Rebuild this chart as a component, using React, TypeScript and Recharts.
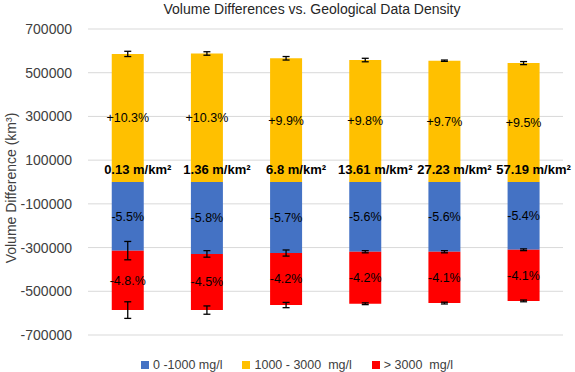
import { Bar, BarChart, CartesianGrid, ErrorBar, Label, LabelList, Legend, XAxis, YAxis } from "recharts";

const densities = ["0.13 m/km²", "1.36 m/km²", "6.8 m/km²", "13.61 m/km²", "27.23 m/km²", "57.19 m/km²"];

// 0 - 1000 mg/l (negative, blue)
const lowValues = [-314000, -329000, -325000, -319000, -319000, -310000];
const lowErrors = [42000, 15000, 14000, 5000, 5000, 4000];
const lowLabels = ["-5.5%", "-5.8%", "-5.7%", "-5.6%", "-5.6%", "-5.4%"];

// 1000 - 3000 mg/l (positive, yellow)
const midValues = [586000, 588000, 566000, 558000, 555000, 544000];
const midErrors = [12000, 8000, 8000, 8000, 3000, 7000];
const midLabels = ["+10.3%", "+10.3%", "+9.9%", "+9.8%", "+9.7%", "+9.5%"];

// > 3000 mg/l (negative, red, stacked below blue)
const highValues = [-272000, -257000, -238000, -238000, -235000, -234000];
const highErrors = [38000, 19000, 12000, 4000, 4000, 4000];
const highLabels = ["-4.8.%", "-4.5%", "-4.2%", "-4.2%", "-4.1%", "-4.1%"];

const yTicks = [700000, 500000, 300000, 100000, -100000, -300000, -500000, -700000];

const seriesNames = ["0 -1000 mg/l", "1000 - 3000  mg/l", ">\u00a03000  mg/l"];

const data = densities.map((name, i) => ({
  name,
  low: lowValues[i],
  lowErr: lowErrors[i],
  lowLabel: lowLabels[i],
  mid: midValues[i],
  midErr: midErrors[i],
  midLabel: midLabels[i],
  high: highValues[i],
  highErr: highErrors[i],
  highLabel: highLabels[i],
}));

const font = "'Liberation Sans', Arial, sans-serif";
const axisColor = "#404040";

const renderLegend = (props: any) => (
  <div style={{ display: "flex", alignItems: "center", height: 16, paddingLeft: 141, fontFamily: font, fontSize: 12.5, color: axisColor }}>
    {(props.payload || []).map((entry: any) => (
      <div key={entry.value} style={{ display: "flex", alignItems: "center", marginRight: 20 }}>
        <span style={{ width: 8, height: 8, background: entry.color, marginRight: 4, display: "inline-block" }} />
        <span style={{ whiteSpace: "pre" }}>{entry.value}</span>
      </div>
    ))}
  </div>
);

const renderDensity = (props: any) => {
  const { x, y, width, height, value } = props;
  return (
    <text x={x + width / 2 + 10} y={y + height - 8} textAnchor="middle" fontFamily={font} fontSize={13} fontWeight="bold" fill="#000">
      {value}
    </text>
  );
};

export default function App() {
  return (
    <div style={{ position: "absolute", left: 0, top: 0, width: 575, height: 372, fontFamily: font }}>
      <div
        style={{
          position: "absolute",
          top: 1,
          left: 312,
          transform: "translateX(-50%)",
          whiteSpace: "nowrap",
          fontSize: 14,
          lineHeight: "16px",
          color: "#262626",
        }}
      >
        Volume Differences vs. Geological Data Density
      </div>
      <BarChart
        width={575}
        height={372}
        data={data}
        stackOffset="sign"
        barCategoryGap="30%"
        margin={{ top: 29, right: 12, bottom: 37, left: 8 }}
      >
        <CartesianGrid vertical={false} stroke="#D9D9D9" />
        <XAxis dataKey="name" hide />
        <YAxis
          width={80}
          domain={[-700000, 700000]}
          ticks={yTicks}
          interval={0}
          axisLine={false}
          tickLine={false}
          tickMargin={10}
          tick={{ fill: axisColor, fontSize: 14, fontFamily: font }}
        >
          <Label
            content={() => (
              <text x={16} y={188} transform="rotate(-90 16 188)" textAnchor="middle" fontFamily={font} fontSize={14} fill={axisColor}>
                Volume Difference (km³)
              </text>
            )}
          />
        </YAxis>
        <Legend
          layout="horizontal"
          verticalAlign="middle"
          align="center"
          wrapperStyle={{ top: 357, left: 0, width: 575, height: 16 }}
          content={renderLegend}
        />
        <Bar dataKey="low" name={seriesNames[0]} stackId="a" fill="#4472C4" isAnimationActive={false}>
          <ErrorBar dataKey="lowErr" width={3.5} stroke="#000" strokeWidth={1.3} direction="y" />
          <LabelList dataKey="lowLabel" position="center" fill="#000" fontSize={12.5} fontFamily={font} />
        </Bar>
        <Bar dataKey="mid" name={seriesNames[1]} stackId="a" fill="#FFC000" isAnimationActive={false}>
          <ErrorBar dataKey="midErr" width={3.5} stroke="#000" strokeWidth={1.3} direction="y" />
          <LabelList dataKey="midLabel" position="center" fill="#000" fontSize={12.5} fontFamily={font} />
          <LabelList dataKey="name" content={renderDensity} />
        </Bar>
        <Bar dataKey="high" name={seriesNames[2]} stackId="a" fill="#FF0000" isAnimationActive={false}>
          <ErrorBar dataKey="highErr" width={3.5} stroke="#000" strokeWidth={1.3} direction="y" />
          <LabelList dataKey="highLabel" position="center" fill="#000" fontSize={12.5} fontFamily={font} />
        </Bar>
      </BarChart>
    </div>
  );
}
